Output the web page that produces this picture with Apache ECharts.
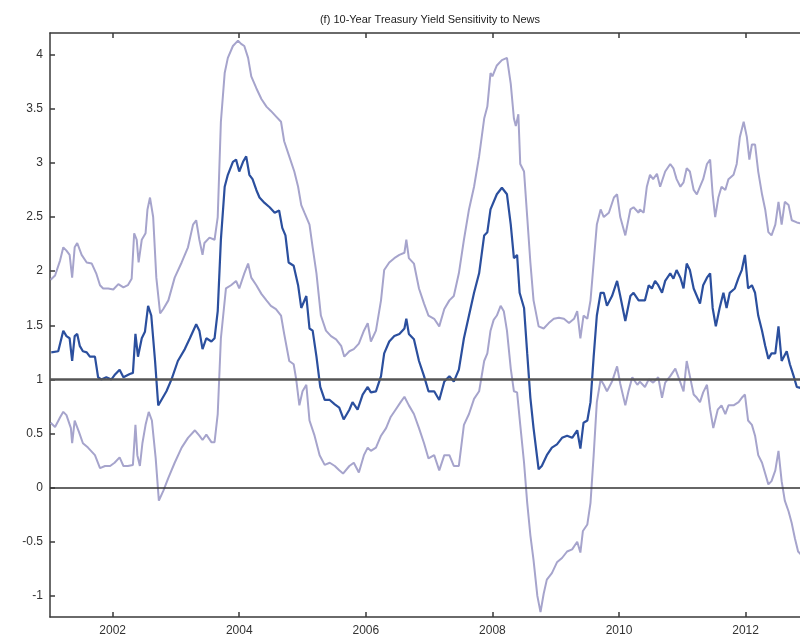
<!DOCTYPE html>
<html>
<head>
<meta charset="utf-8">
<script src="https://cdn.jsdelivr.net/npm/echarts@6/dist/echarts.min.js"></script>
<style>html,body{margin:0;padding:0;background:#fff}#c{width:800px;height:641px}</style>
</head>
<body>
<div id="c"></div>
<script>
const titleText = '(f) 10-Year Treasury Yield Sensitivity to News';
const xTicks = [2002, 2004, 2006, 2008, 2010, 2012];
const yTicks = [-1, -0.5, 0, 0.5, 1, 1.5, 2, 2.5, 3, 3.5, 4];
const refLines = [1, 0];

const upper = [
[2001.02,1.92],[2001.09,1.96],[2001.17,2.10],[2001.22,2.22],[2001.27,2.19],[2001.32,2.15],[2001.36,1.94],[2001.40,2.22],[2001.44,2.26],[2001.51,2.15],[2001.59,2.08],[2001.67,2.07],[2001.74,1.98],[2001.80,1.87],[2001.85,1.84],[2001.93,1.84],[2002.01,1.83],[2002.09,1.88],[2002.17,1.85],[2002.24,1.87],[2002.30,1.93],[2002.34,2.35],[2002.38,2.29],[2002.41,2.08],[2002.46,2.29],[2002.52,2.35],[2002.55,2.57],[2002.59,2.68],[2002.64,2.50],[2002.69,1.94],[2002.75,1.61],[2002.80,1.65],[2002.88,1.73],[2002.98,1.94],[2003.09,2.08],[2003.19,2.22],[2003.27,2.43],
[2003.32,2.47],[2003.37,2.29],[2003.42,2.15],[2003.45,2.26],[2003.53,2.31],[2003.61,2.29],[2003.66,2.50],[2003.71,3.38],[2003.77,3.83],[2003.82,3.97],[2003.90,4.08],[2003.98,4.13],[2004.03,4.10],[2004.08,4.08],[2004.14,3.97],[2004.19,3.80],[2004.27,3.69],[2004.35,3.59],[2004.43,3.52],[2004.50,3.48],[2004.58,3.43],[2004.66,3.38],[2004.71,3.20],[2004.79,3.06],[2004.87,2.92],[2004.93,2.78],[2004.98,2.61],[2005.03,2.54],[2005.11,2.43],[2005.16,2.22],[2005.22,1.98],[2005.29,1.59],[2005.37,1.45],[2005.45,1.40],[2005.53,1.37],[2005.61,1.31],[2005.66,1.21],
[2005.74,1.26],[2005.81,1.28],[2005.89,1.33],[2005.97,1.45],[2006.03,1.52],[2006.08,1.35],[2006.16,1.45],[2006.24,1.73],[2006.29,2.01],[2006.37,2.08],[2006.45,2.12],[2006.53,2.15],[2006.61,2.17],[2006.64,2.29],[2006.68,2.12],[2006.76,2.07],[2006.84,1.84],[2006.92,1.70],[2006.99,1.59],[2007.08,1.56],[2007.16,1.49],[2007.24,1.65],[2007.32,1.73],[2007.39,1.77],[2007.47,1.98],[2007.55,2.29],[2007.63,2.57],[2007.71,2.78],[2007.79,3.06],[2007.87,3.41],[2007.92,3.52],[2007.97,3.83],
[2008.00,3.80],[2008.07,3.90],[2008.15,3.95],[2008.23,3.97],[2008.29,3.73],[2008.34,3.41],[2008.37,3.34],[2008.41,3.45],[2008.44,2.99],[2008.50,2.92],[2008.55,2.50],[2008.60,2.08],[2008.65,1.73],[2008.73,1.49],[2008.81,1.47],[2008.89,1.52],[2008.97,1.56],[2009.05,1.57],[2009.13,1.56],[2009.21,1.52],[2009.29,1.56],[2009.34,1.63],[2009.39,1.38],[2009.44,1.59],[2009.50,1.56],[2009.55,1.73],[2009.60,2.08],[2009.65,2.43],[2009.71,2.57],[2009.76,2.50],[2009.84,2.54],[2009.92,2.68],[2009.97,2.71],[2010.02,2.50],[2010.10,2.33],[2010.18,2.57],[2010.23,2.59],[2010.31,2.54],
[2010.33,2.57],[2010.39,2.54],[2010.44,2.78],[2010.49,2.89],[2010.54,2.85],[2010.60,2.90],[2010.65,2.78],[2010.73,2.92],[2010.81,2.99],[2010.86,2.95],[2010.91,2.85],[2010.97,2.78],[2011.02,2.82],[2011.07,2.95],[2011.12,2.92],[2011.18,2.75],[2011.23,2.71],[2011.28,2.78],[2011.33,2.85],[2011.39,2.99],[2011.44,3.03],[2011.48,2.71],[2011.52,2.50],[2011.57,2.68],[2011.62,2.78],[2011.68,2.75],[2011.73,2.85],[2011.81,2.89],[2011.86,2.99],[2011.91,3.24],[2011.97,3.38],[2012.02,3.24],[2012.06,3.03],[2012.10,3.17],[2012.15,3.17],[2012.20,2.92],[2012.26,2.71],[2012.31,2.57],[2012.36,2.36],[2012.41,2.33],[2012.47,2.43],[2012.52,2.64],[2012.57,2.43],[2012.62,2.64],[2012.68,2.61],[2012.73,2.47],[2012.81,2.45],[2012.88,2.44]
];

const middle = [
[2001.03,1.25],[2001.14,1.26],[2001.22,1.45],[2001.27,1.40],[2001.32,1.38],[2001.36,1.17],[2001.40,1.40],[2001.44,1.42],[2001.48,1.31],[2001.53,1.26],[2001.59,1.25],[2001.64,1.21],[2001.72,1.21],[2001.77,1.02],[2001.82,1.00],[2001.90,1.02],[2001.98,1.00],[2002.03,1.04],[2002.11,1.09],[2002.17,1.02],[2002.27,1.05],[2002.32,1.06],[2002.36,1.42],[2002.40,1.21],[2002.46,1.38],[2002.51,1.44],[2002.56,1.68],[2002.61,1.59],[2002.67,1.17],[2002.72,0.76],[2002.77,0.81],[2002.85,0.89],[2002.93,1.00],[2003.03,1.17],[2003.14,1.28],[2003.22,1.38],
[2003.32,1.51],[2003.37,1.45],[2003.42,1.28],[2003.48,1.38],[2003.56,1.35],[2003.61,1.38],[2003.66,1.63],[2003.71,2.29],[2003.77,2.78],[2003.82,2.89],[2003.90,3.01],[2003.95,3.03],[2004.00,2.92],[2004.06,3.01],[2004.11,3.06],[2004.16,2.89],[2004.21,2.85],[2004.27,2.75],[2004.32,2.68],[2004.40,2.63],[2004.48,2.59],[2004.56,2.54],[2004.63,2.56],[2004.68,2.40],[2004.73,2.33],[2004.78,2.08],[2004.86,2.05],[2004.93,1.87],[2004.98,1.66],[2005.06,1.77],[2005.11,1.47],[2005.16,1.45],[2005.22,1.21],[2005.28,0.93],[2005.35,0.81],[2005.43,0.81],[2005.51,0.77],[2005.58,0.74],[2005.65,0.63],
[2005.74,0.72],[2005.79,0.79],[2005.87,0.72],[2005.95,0.86],[2006.03,0.93],[2006.08,0.88],[2006.16,0.89],[2006.24,1.03],[2006.29,1.24],[2006.37,1.35],[2006.45,1.40],[2006.53,1.42],[2006.61,1.47],[2006.64,1.56],[2006.68,1.42],[2006.76,1.37],[2006.84,1.17],[2006.92,1.03],[2006.99,0.89],[2007.08,0.89],[2007.16,0.81],[2007.24,0.98],[2007.32,1.03],[2007.39,0.98],[2007.47,1.09],[2007.55,1.38],[2007.63,1.59],[2007.71,1.80],[2007.79,1.98],[2007.87,2.33],[2007.92,2.36],[2007.97,2.57],
[2008.07,2.71],[2008.15,2.77],[2008.23,2.71],[2008.29,2.43],[2008.34,2.12],[2008.39,2.15],[2008.43,1.80],[2008.50,1.66],[2008.55,1.24],[2008.60,0.83],[2008.65,0.55],[2008.73,0.17],[2008.78,0.20],[2008.86,0.30],[2008.94,0.37],[2009.02,0.40],[2009.10,0.46],[2009.18,0.48],[2009.26,0.46],[2009.34,0.53],[2009.39,0.36],[2009.44,0.60],[2009.50,0.62],[2009.55,0.79],[2009.60,1.21],[2009.65,1.59],[2009.71,1.80],[2009.76,1.80],[2009.81,1.68],[2009.89,1.77],[2009.97,1.91],[2010.02,1.77],[2010.10,1.54],[2010.18,1.77],[2010.23,1.80],[2010.31,1.73],
[2010.41,1.73],[2010.47,1.87],[2010.52,1.84],[2010.57,1.91],[2010.62,1.87],[2010.68,1.80],[2010.73,1.91],[2010.81,1.98],[2010.86,1.93],[2010.91,2.01],[2010.97,1.94],[2011.02,1.84],[2011.07,2.07],[2011.12,2.01],[2011.18,1.84],[2011.23,1.77],[2011.28,1.70],[2011.33,1.87],[2011.39,1.94],[2011.44,1.98],[2011.48,1.66],[2011.53,1.49],[2011.59,1.66],[2011.65,1.80],[2011.70,1.66],[2011.75,1.80],[2011.83,1.84],[2011.89,1.94],[2011.94,2.01],[2011.99,2.15],[2012.04,1.84],[2012.10,1.87],[2012.15,1.80],[2012.20,1.59],[2012.26,1.45],[2012.31,1.31],[2012.36,1.19],[2012.41,1.24],[2012.47,1.24],[2012.52,1.49],[2012.57,1.17],[2012.65,1.26],[2012.70,1.14],[2012.76,1.03],[2012.81,0.93],[2012.88,0.92]
];

const lower = [
[2001.02,0.60],[2001.09,0.56],[2001.17,0.65],[2001.22,0.70],[2001.27,0.67],[2001.34,0.55],[2001.36,0.41],[2001.40,0.62],[2001.47,0.51],[2001.53,0.41],[2001.61,0.37],[2001.72,0.30],[2001.80,0.18],[2001.88,0.20],[2001.96,0.20],[2002.03,0.23],[2002.11,0.28],[2002.17,0.20],[2002.24,0.20],[2002.32,0.21],[2002.36,0.58],[2002.39,0.30],[2002.43,0.20],[2002.47,0.41],[2002.52,0.58],[2002.57,0.70],[2002.62,0.62],[2002.68,0.27],[2002.73,-0.12],[2002.80,-0.03],[2002.88,0.09],[2002.98,0.23],[2003.09,0.37],[2003.19,0.46],[2003.30,0.53],
[2003.37,0.48],[2003.42,0.44],[2003.48,0.49],[2003.56,0.42],[2003.61,0.42],[2003.66,0.68],[2003.71,1.38],[2003.79,1.84],[2003.87,1.87],[2003.95,1.91],[2004.00,1.84],[2004.08,1.98],[2004.14,2.07],[2004.19,1.94],[2004.27,1.87],[2004.35,1.79],[2004.43,1.73],[2004.50,1.68],[2004.58,1.65],[2004.66,1.59],[2004.71,1.42],[2004.79,1.17],[2004.86,1.14],[2004.90,1.00],[2004.95,0.76],[2005.00,0.89],[2005.06,0.95],[2005.11,0.62],[2005.19,0.48],[2005.27,0.30],[2005.35,0.21],[2005.43,0.23],[2005.51,0.20],[2005.58,0.16],[2005.64,0.13],
[2005.74,0.20],[2005.81,0.23],[2005.89,0.14],[2005.97,0.30],[2006.03,0.37],[2006.08,0.34],[2006.16,0.37],[2006.24,0.48],[2006.32,0.55],[2006.39,0.65],[2006.47,0.72],[2006.55,0.79],[2006.61,0.84],[2006.68,0.76],[2006.76,0.68],[2006.84,0.55],[2006.92,0.41],[2006.99,0.27],[2007.08,0.30],[2007.16,0.16],[2007.24,0.30],[2007.32,0.30],[2007.39,0.20],[2007.47,0.20],[2007.55,0.58],[2007.63,0.68],[2007.71,0.82],[2007.79,0.89],[2007.87,1.17],[2007.92,1.24],[2007.97,1.45],
[2008.02,1.55],[2008.07,1.59],[2008.13,1.68],[2008.18,1.63],[2008.23,1.45],[2008.29,1.10],[2008.34,0.89],[2008.39,0.88],[2008.44,0.58],[2008.50,0.23],[2008.55,-0.14],[2008.60,-0.44],[2008.65,-0.67],[2008.71,-1.00],[2008.76,-1.15],[2008.81,-0.98],[2008.86,-0.85],[2008.94,-0.79],[2009.02,-0.69],[2009.10,-0.65],[2009.18,-0.59],[2009.26,-0.57],[2009.34,-0.50],[2009.39,-0.60],[2009.43,-0.40],[2009.50,-0.34],[2009.55,-0.14],[2009.60,0.30],[2009.65,0.79],[2009.71,1.00],[2009.76,0.95],[2009.81,0.89],[2009.89,0.98],[2009.97,1.12],[2010.02,0.96],[2010.10,0.76],[2010.15,0.89],[2010.21,1.02],[2010.29,0.95],
[2010.33,0.98],[2010.41,0.93],[2010.47,1.00],[2010.54,0.97],[2010.62,1.02],[2010.68,0.83],[2010.73,0.97],[2010.81,1.03],[2010.89,1.10],[2010.94,1.02],[2011.02,0.89],[2011.07,1.17],[2011.12,1.03],[2011.18,0.86],[2011.23,0.83],[2011.28,0.79],[2011.33,0.88],[2011.39,0.95],[2011.44,0.72],[2011.49,0.55],[2011.56,0.72],[2011.62,0.76],[2011.68,0.68],[2011.73,0.76],[2011.81,0.76],[2011.89,0.79],[2011.94,0.83],[2011.99,0.86],[2012.04,0.62],[2012.10,0.58],[2012.15,0.48],[2012.20,0.30],[2012.26,0.23],[2012.31,0.13],[2012.36,0.03],[2012.41,0.06],[2012.47,0.16],[2012.52,0.34],[2012.57,0.06],[2012.62,-0.12],[2012.68,-0.22],[2012.73,-0.33],[2012.78,-0.47],[2012.83,-0.59],[2012.88,-0.62]
];

const chart = echarts.init(document.getElementById('c'), null, {renderer: 'canvas'});
const font = "'Liberation Sans', Arial, sans-serif";
const axisCol = '#3a3a3a';
const bandCol = '#a6a4cc';
const midCol = '#2b4f9e';

const xBase = {
  type: 'value', min: 2001.01, max: 2012.86,
  axisLine: {show: true, onZero: false, lineStyle: {color: axisCol, width: 1.5}},
  splitLine: {show: false}
};

chart.setOption({
  animation: false,
  backgroundColor: '#ffffff',
  title: {
    text: titleText, left: 425, top: 9, textAlign: 'center',
    textStyle: {fontFamily: font, fontSize: 11, fontWeight: 'normal', color: '#222'}
  },
  grid: {left: 50, right: 0, top: 33, bottom: 24, containLabel: false},
  xAxis: [
    Object.assign({}, xBase, {
      position: 'bottom',
      axisTick: {show: true, inside: true, length: 5, customValues: xTicks, lineStyle: {color: axisCol, width: 1.5}},
      axisLabel: {show: true, customValues: xTicks, margin: 8, fontFamily: font, fontSize: 12, color: '#333',
                  formatter: v => String(Math.round(v))}
    }),
    Object.assign({}, xBase, {
      position: 'top',
      axisTick: {show: true, inside: true, length: 5, customValues: xTicks, lineStyle: {color: axisCol, width: 1.5}},
      axisLabel: {show: false}
    })
  ],
  yAxis: {
    type: 'value', min: -1.195, max: 4.2,
    axisLine: {show: true, onZero: false, lineStyle: {color: axisCol, width: 1.5}},
    axisTick: {show: true, inside: true, length: 5, customValues: yTicks, lineStyle: {color: axisCol, width: 1.5}},
    axisLabel: {show: true, customValues: yTicks, margin: 7, fontFamily: font, fontSize: 12, color: '#333',
                formatter: v => String(Math.round(v * 10) / 10)},
    splitLine: {show: false}
  },
  series: [
    {
      type: 'line', data: [], silent: true, z: 1,
      markLine: {
        silent: true, symbol: 'none', label: {show: false}, animation: false,
        data: [
          {yAxis: refLines[0], lineStyle: {color: '#555', width: 2.5, type: 'solid'}},
          {yAxis: refLines[1], lineStyle: {color: '#333', width: 1.5, type: 'solid'}}
        ]
      }
    },
    {type: 'line', name: 'upper', data: upper, showSymbol: false, symbol: 'none', z: 2,
     lineStyle: {color: bandCol, width: 2}},
    {type: 'line', name: 'lower', data: lower, showSymbol: false, symbol: 'none', z: 2,
     lineStyle: {color: bandCol, width: 2}},
    {type: 'line', name: 'middle', data: middle, showSymbol: false, symbol: 'none', z: 3,
     lineStyle: {color: midCol, width: 2.2}}
  ]
});
</script>
</body>
</html>
